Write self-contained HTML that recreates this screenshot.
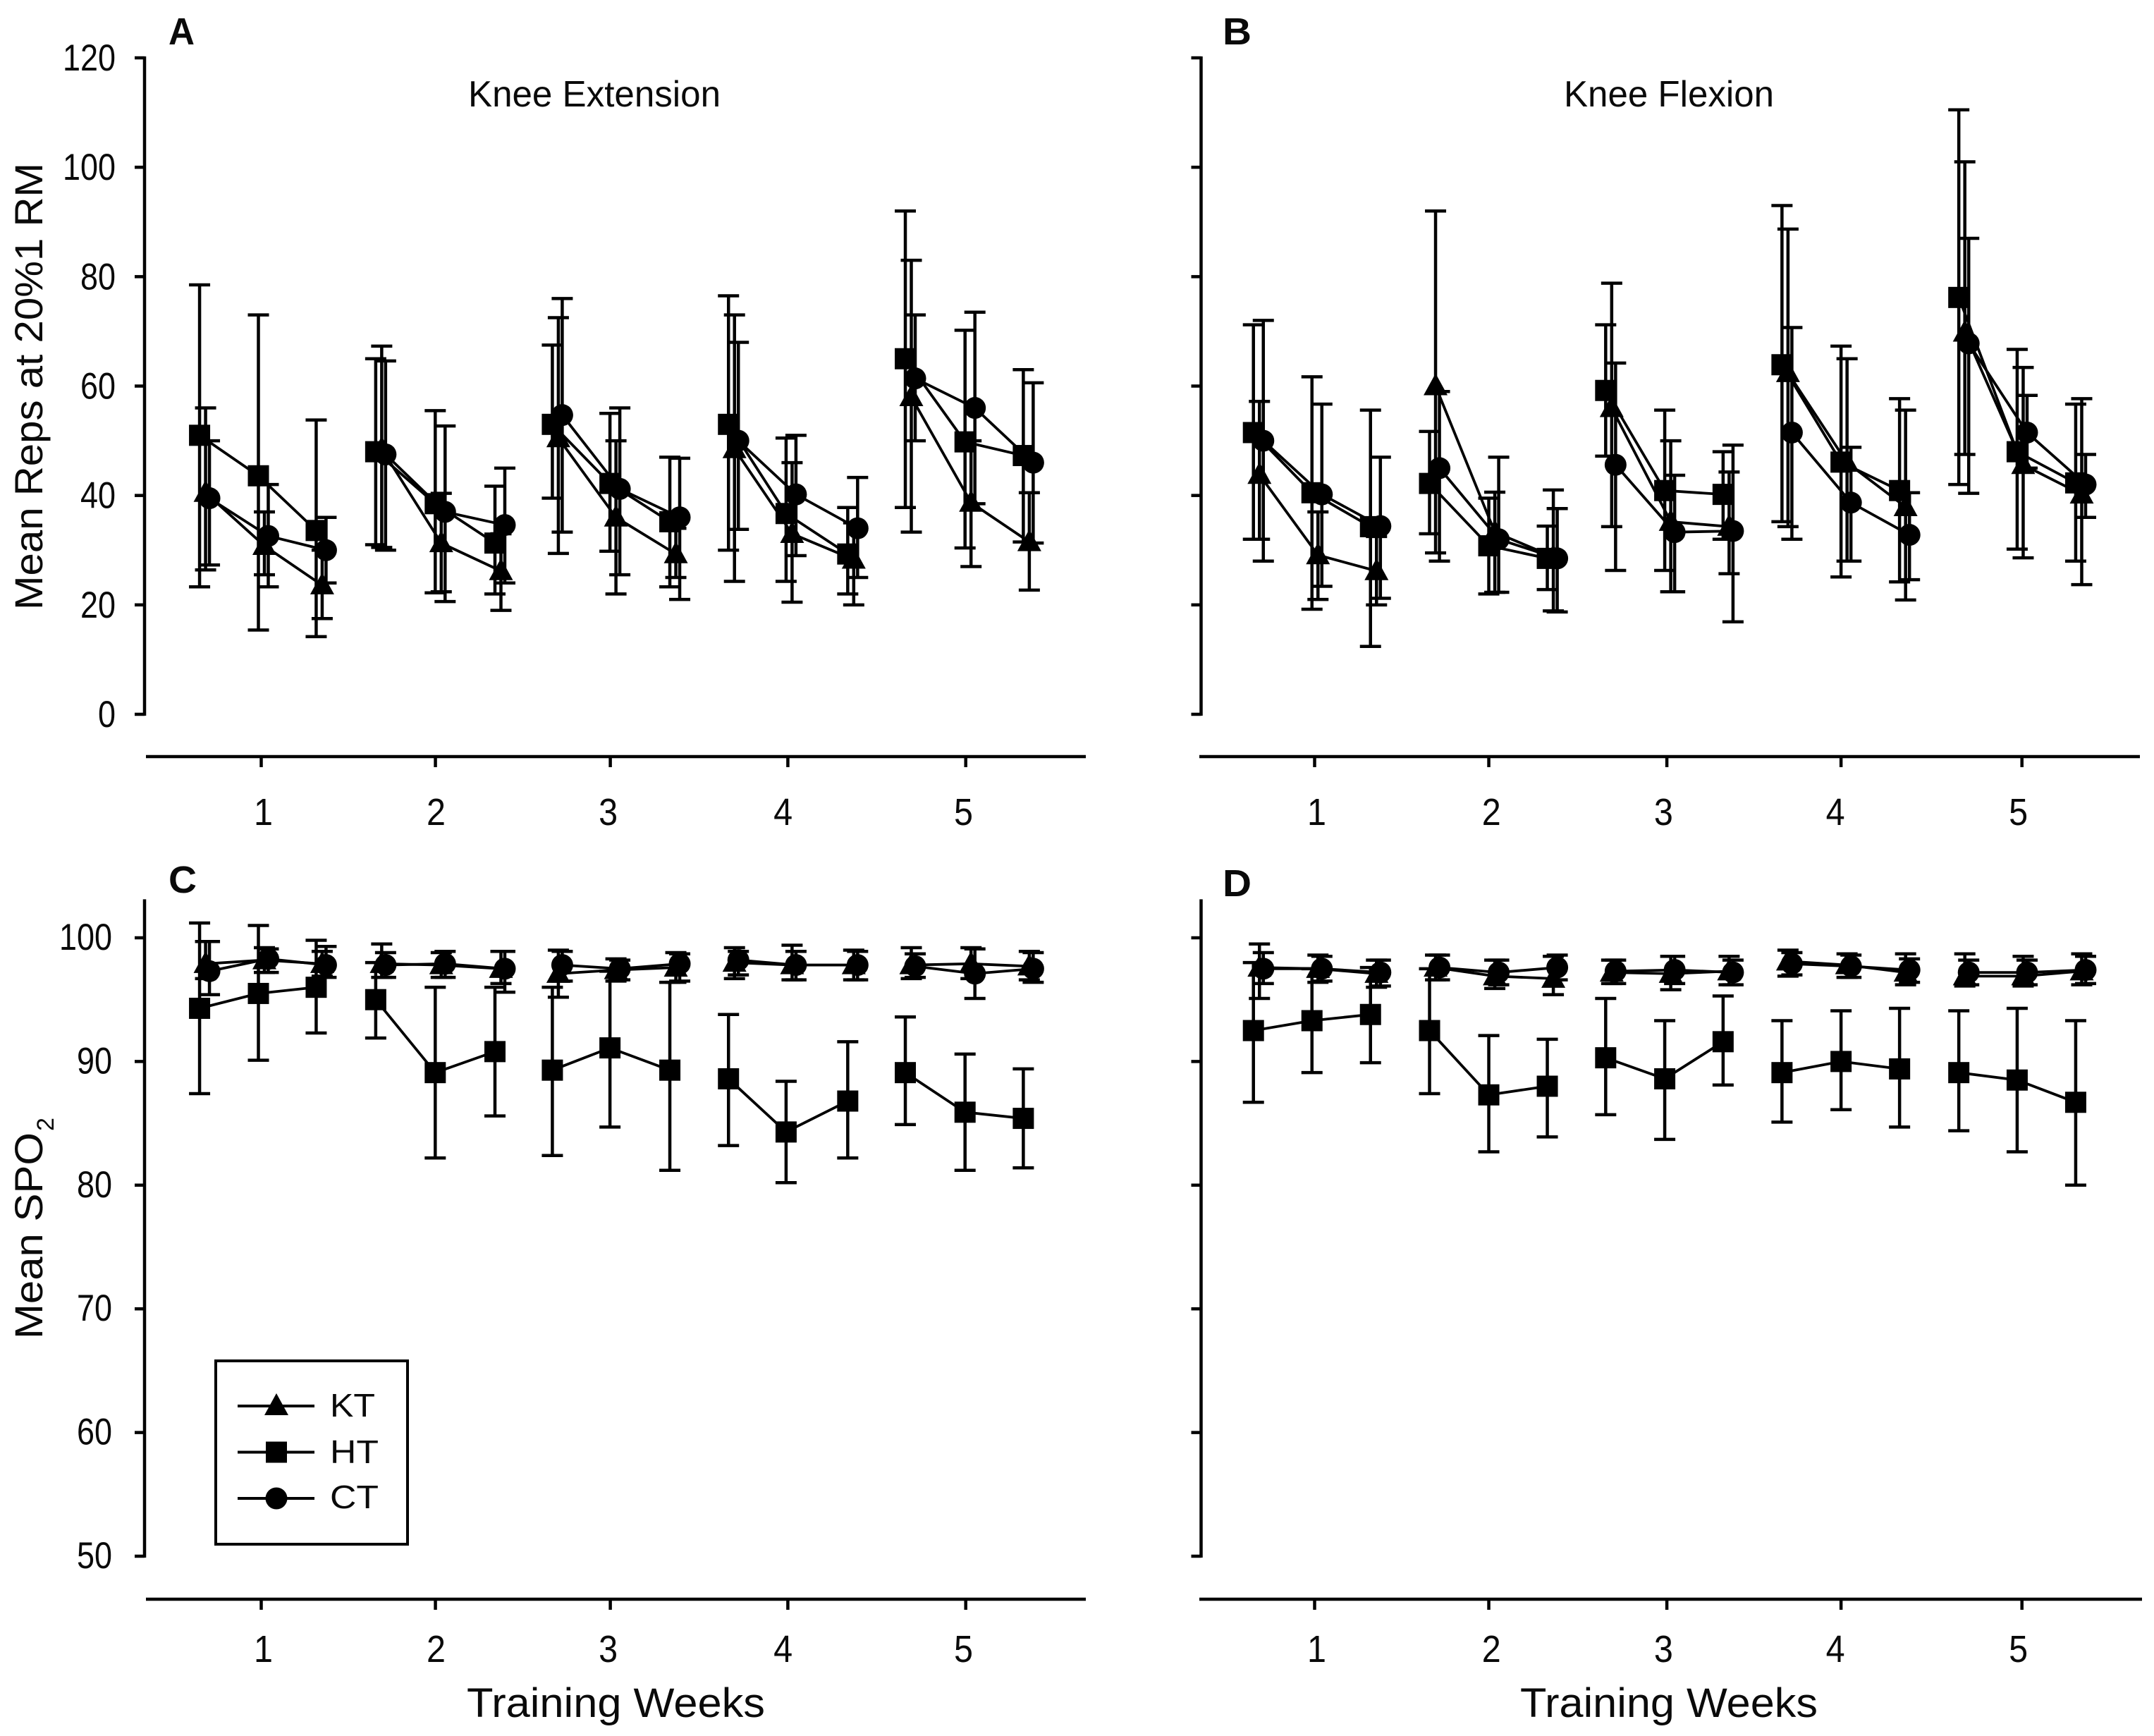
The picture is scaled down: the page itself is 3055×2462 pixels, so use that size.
<!DOCTYPE html>
<html lang="en">
<head>
<meta charset="utf-8">
<title>Mean reps and SpO2 across training weeks</title>
<style>
html,body{margin:0;padding:0;background:#fff;}
#figure{display:block;width:3055px;height:2462px;background:#fff;}
text{font-family:"Liberation Sans",Arial,sans-serif;fill:#0a0a0a;}
</style>
</head>
<body>
<svg id="figure" xmlns="http://www.w3.org/2000/svg" width="3055" height="2462" viewBox="0 0 3055 2462">
  <rect x="0" y="0" width="3055" height="2462" fill="#fff"/>

  <text x="239" y="63" font-size="54" font-weight="bold" textLength="37" lengthAdjust="spacingAndGlyphs">A</text>
  <text x="1734" y="63" font-size="54" font-weight="bold" textLength="41" lengthAdjust="spacingAndGlyphs">B</text>
  <text x="239" y="1266" font-size="54" font-weight="bold" textLength="40" lengthAdjust="spacingAndGlyphs">C</text>
  <text x="1734" y="1271" font-size="54" font-weight="bold" textLength="41" lengthAdjust="spacingAndGlyphs">D</text>

  <text x="664" y="151" font-size="52" textLength="358" lengthAdjust="spacingAndGlyphs">Knee Extension</text>
  <text x="2218" y="151" font-size="52" textLength="298" lengthAdjust="spacingAndGlyphs">Knee Flexion</text>

  <text transform="translate(60,865) rotate(-90)" font-size="56" textLength="634" lengthAdjust="spacingAndGlyphs">Mean Reps at 20%1 RM</text>
  <text transform="translate(60,1899) rotate(-90)" font-size="56" textLength="293" lengthAdjust="spacingAndGlyphs">Mean SPO</text>
  <text transform="translate(76,1604) rotate(-90)" font-size="34">2</text>

  <text x="662" y="2435" font-size="58" textLength="423" lengthAdjust="spacingAndGlyphs">Training Weeks</text>
  <text x="2156" y="2435" font-size="58" textLength="422" lengthAdjust="spacingAndGlyphs">Training Weeks</text>

  <g id="plots"></g>

  <g id="legend">
    <rect x="306" y="1930" width="272" height="260" fill="#fff" stroke="#000" stroke-width="4"/>
    <text x="468" y="2009" font-size="46" textLength="64" lengthAdjust="spacingAndGlyphs">KT</text>
    <text x="468" y="2075" font-size="46" textLength="69" lengthAdjust="spacingAndGlyphs">HT</text>
    <text x="468" y="2139" font-size="46" textLength="69" lengthAdjust="spacingAndGlyphs">CT</text>
  </g>
</svg>

<script>
// ---- shared categories and tick labels ----
const weekLabels = ["1", "2", "3", "4", "5"];
const repsTickValues = [0, 20, 40, 60, 80, 100, 120];
const spoTickValues = [50, 60, 70, 80, 90, 100];
const weekTicksLeft = [1, 1.989, 2.982, 3.99, 5];
const weekTicksRight = [1, 1.985, 2.992, 3.977, 5];
const weekLabelAtLeft = [1.012, 1.993, 2.97, 3.963, 4.987];
const weekLabelAtRight = [1.012, 2, 2.973, 3.945, 4.98];
const sessionWeekLeft = [0.65, 0.984, 1.312, 1.65, 1.988, 2.327, 2.653, 2.98, 3.32, 3.653, 3.98, 4.33, 4.657, 4.996, 5.327];
const sessionWeekRight = [0.654, 0.985, 1.316, 1.65, 1.985, 2.316, 2.646, 2.98, 3.31, 3.643, 3.977, 4.308, 4.643, 4.973, 5.304];

// ---- Panel A: knee extension ----
const aHtMean = [51, 43.6, 33.6, 48, 38.5, 31.3, 53, 42.2, 35.2, 53, 36.7, 29.3, 65, 49.8, 47.3];
const aHtUpper = [78.5, 73, 53.8, 65, 55.5, 41.7, 67.5, 55, 47, 76.5, 50.5, 37.8, 92, 70.2, 63];
const aHtLower = [23.3, 15.4, 14.2, 31, 22.2, 22, 39.5, 29.8, 23.3, 30, 24.3, 22, 37.8, 30.4, 31.5];
const aKtMean = [40.5, 30.8, 23.6, 48.5, 31.3, 26.2, 50.5, 36, 29.3, 48.5, 33, 28.3, 58, 38.7, 31.5];
const aKtUpper = [56, 37, 30, 67.3, 40.4, 33, 72.5, 50, 34, 73, 46, 35, 83, 50, 40.5];
const aKtLower = [26.4, 25.5, 17.5, 30.5, 22.4, 19, 29.4, 22, 25, 24.3, 20.5, 20, 33.3, 27, 22.7];
const aCtMean = [39.5, 32.6, 30, 47.5, 37, 34.6, 54.7, 41.2, 36, 50, 40.2, 34, 61.4, 56, 46];
const aCtUpper = [50, 42, 36, 64.6, 52.7, 45, 76, 56, 46.8, 68, 51, 43.3, 73, 73.5, 60.6];
const aCtLower = [27.3, 23.3, 24, 30, 20.6, 24, 33.3, 25.5, 21, 33.8, 29, 25, 50, 38.5, 31.3];

// ---- Panel B: knee flexion ----
const bHtMean = [51.5, 40.5, 34.3, 42.2, 30.8, 28.5, 59.2, 40.9, 40.2, 63.9, 46.1, 40.9, 76.2, 48, 42.3];
const bHtUpper = [71.2, 61.7, 55.6, 51.7, 39.5, 34.4, 71.2, 55.6, 48, 93, 67.3, 57.7, 110.5, 66.7, 56.7];
const bHtLower = [32, 19.2, 12.4, 33, 22, 22.8, 47.2, 26.3, 32, 35.2, 25.1, 24.2, 42, 30.2, 28];
const bKtMean = [43.8, 29.1, 26.2, 60, 33.3, 28.8, 56, 35.2, 34.3, 62.4, 46, 37.9, 69.8, 45.6, 40.2];
const bKtUpper = [57.2, 37, 32.5, 92, 40.6, 41, 78.8, 50, 44.3, 88.7, 65, 55.6, 101, 63.4, 57.7];
const bKtLower = [32, 21, 20, 29.5, 22.3, 18.9, 34.3, 22.4, 25.7, 34.3, 28, 20.9, 47.5, 28.6, 23.7];
const bCtMean = [50, 40.2, 34.4, 45, 32, 28.5, 45.6, 33.3, 33.5, 51.5, 38.7, 32.8, 67.8, 51.5, 42];
const bCtUpper = [72, 56.7, 47, 59, 47, 37.6, 64.2, 43.7, 49.2, 70.7, 48.8, 40.5, 87, 58.3, 47.5];
const bCtLower = [28, 23.4, 21.2, 28, 22.3, 18.7, 26.3, 22.4, 16.9, 32, 28, 24.6, 40.4, 45, 36];

// ---- Panel C: SpO2 during knee extension ----
const cHtMean = [94.3, 95.5, 96, 95, 89.1, 90.8, 89.3, 91.1, 89.3, 88.6, 84.3, 86.8, 89.1, 85.9, 85.4];
const cHtUpper = [101.2, 101, 99.8, 98, 96, 96, 96, 97.3, 96.4, 93.8, 88.4, 91.6, 93.6, 90.6, 89.4];
const cHtLower = [87.4, 90.1, 92.3, 91.9, 82.2, 85.6, 82.4, 84.7, 81.2, 83.2, 80.2, 82.2, 84.9, 81.2, 81.4];
const cKtMean = [97.9, 98.2, 97.9, 97.9, 97.8, 97.5, 97.1, 97.4, 97.6, 98, 97.8, 97.8, 97.8, 97.9, 97.7];
const cKtUpper = [99.7, 99.2, 98.9, 99.5, 98.8, 98.9, 99, 98.3, 98.8, 99.2, 99.4, 99, 99.2, 99.2, 98.9];
const cKtLower = [96.7, 97.2, 96.9, 96.8, 96.8, 96.3, 95.2, 96.5, 96.4, 96.7, 96.6, 96.6, 96.7, 96.7, 96.6];
const cCtMean = [97.3, 98.3, 97.8, 97.8, 97.9, 97.5, 97.8, 97.5, 97.9, 98.2, 97.8, 97.8, 97.7, 97.1, 97.5];
const cCtUpper = [99.7, 99.1, 99.3, 98.8, 98.9, 98.9, 98.9, 98.2, 98.7, 98.9, 98.9, 98.9, 98.7, 99.1, 98.8];
const cCtLower = [95.4, 97.2, 96.8, 96.8, 96.8, 95.6, 96.5, 96.6, 96.5, 97, 96.6, 96.6, 96.8, 95.1, 96.4];

// ---- Panel D: SpO2 during knee flexion ----
const dHtMean = [92.5, 93.3, 93.8, 92.5, 87.3, 88, 90.3, 88.6, 91.6, 89.1, 90, 89.4, 89.1, 88.5, 86.7];
const dHtUpper = [98, 97.5, 97.6, 97.5, 92.1, 91.8, 95.1, 93.3, 95.3, 93.3, 94.1, 94.3, 94.1, 94.3, 93.3];
const dHtLower = [86.7, 89.1, 89.9, 87.4, 82.7, 83.9, 85.7, 83.7, 88.1, 85.1, 86.1, 84.7, 84.4, 82.7, 80];
const dKtMean = [97.6, 97.5, 97.1, 97.6, 96.9, 96.7, 97.2, 97.1, 97.3, 98.1, 97.8, 97.2, 96.9, 96.9, 97.3];
const dKtUpper = [99.5, 98.6, 98.2, 98.6, 98.2, 98.5, 98.2, 98.5, 98.5, 99, 98.7, 98.7, 98.7, 98.5, 98.7];
const dKtLower = [95.1, 96.4, 96, 96.6, 95.9, 95.4, 96.3, 95.8, 96.2, 96.9, 96.8, 96.2, 96.1, 96.1, 96.2];
const dCtMean = [97.5, 97.5, 97.2, 97.6, 97.2, 97.6, 97.3, 97.4, 97.2, 97.9, 97.7, 97.4, 97.2, 97.2, 97.4];
const dCtUpper = [98.8, 98.5, 98.2, 98.6, 98.2, 98.6, 98.2, 98.5, 98.2, 98.8, 98.6, 98.3, 98.2, 98.2, 98.5];
const dCtLower = [96.3, 96.5, 96.1, 96.6, 96.2, 96.6, 96.3, 96.3, 96.2, 97, 96.8, 96.4, 96.2, 96.2, 96.3];

// ---- axis functions ----
const xLeft = v => 370.5 + (v - 1) * 249.8;
const xRight = v => 1864.5 + (v - 1) * 250.8;
const yReps = v => 1013 - v * 7.758;
const ySpo = v => 1330 + (100 - v) * 17.54;
const seriesOffsetWeeks = { ht: 0, kt: 0.034, ct: 0.056 };
const svgNS = "http://www.w3.org/2000/svg";

function mk(parent, tag, attrs, text) {
  const el = document.createElementNS(svgNS, tag);
  for (const k in attrs) el.setAttribute(k, attrs[k]);
  if (text !== undefined) el.textContent = text;
  parent.appendChild(el);
  return el;
}

function drawMarker(parent, kind, cx, cy) {
  let el;
  if (kind === "ht") {
    el = mk(parent, "rect", { x: cx - 15, y: cy - 15, width: 30, height: 30, fill: "#000" });
    
  } else if (kind === "kt") {
    el = mk(parent, "polygon", { points: (cx - 17) + "," + (cy + 13) + " " + cx + "," + (cy - 18) + " " + (cx + 17) + "," + (cy + 13), fill: "#000" });
    
  } else {
    el = mk(parent, "circle", { cx: cx, cy: cy, r: 15.5, fill: "#000" });
    
  }
  
}

function drawSeries(parent, kind, sessions, xScale, yScale, mean, upper, lower) {
  const grp = mk(parent, "g", {});
  
  
  const px = sessions.map(s => xScale(s + seriesOffsetWeeks[kind]));
  // connecting lines inside each week
  for (let i = 0; i < mean.length; i += 3) {
    const pts = [0, 1, 2].map(j => px[i + j] + "," + yScale(mean[i + j])).join(" ");
    const line = mk(grp, "polyline", { points: pts, fill: "none", stroke: "#000", "stroke-width": 3.8 });
    
    
  }
  // error bars
  for (let i = 0; i < mean.length; i++) {
    const yu = yScale(upper[i]);
    const yl = yScale(lower[i]);
    const bar = mk(grp, "path", {
      d: "M" + px[i] + " " + yu + "V" + yl +
         "M" + (px[i] - 15) + " " + yu + "H" + (px[i] + 15) +
         "M" + (px[i] - 15) + " " + yl + "H" + (px[i] + 15),
      fill: "none", stroke: "#000", "stroke-width": 4.5
    });
    
    
  }
  for (let i = 0; i < mean.length; i++) {
    drawMarker(grp, kind, px[i], yScale(mean[i]));
  }
}

function drawAxes(parent, opt) {
  const grp = mk(parent, "g", {});
  
  
  const axisLine = mk(grp, "line", { x1: opt.axisX, x2: opt.axisX, y1: opt.yScale(opt.yMax) - 2, y2: opt.yScale(opt.yMin) + 2, stroke: "#000", "stroke-width": 4.5 });
  
  
  opt.yTicks.forEach(v => {
    const y = opt.yScale(v);
    const tick = mk(grp, "line", { x1: opt.axisX - 14, x2: opt.axisX, y1: y, y2: y, stroke: "#000", "stroke-width": 4.5 });
    
    
    if (opt.yLabelRight) {
      const label = String(v);
      const t = mk(grp, "text", { x: opt.yLabelRight, y: y + opt.yLabelDy, "font-size": 53, "text-anchor": "end", textLength: label.length * 25, lengthAdjust: "spacingAndGlyphs" }, label);
      
      
    }
  });
  const xLine = mk(grp, "line", { x1: opt.xFrom, x2: opt.xTo, y1: opt.xAxisY, y2: opt.xAxisY, stroke: "#000", "stroke-width": 4.5 });
  
  
  opt.xTicks.forEach((v, i) => {
    const x = opt.xScale(v);
    const tick = mk(grp, "line", { x1: x, x2: x, y1: opt.xAxisY, y2: opt.xAxisY + 15, stroke: "#000", "stroke-width": 4.5 });
    
    
    const t = mk(grp, "text", { x: opt.xScale(opt.xLabelAt[i]), y: opt.xLabelY, "font-size": 54, "text-anchor": "middle", textLength: 27, lengthAdjust: "spacingAndGlyphs" }, weekLabels[i]);
    
    
  });
}

const plots = document.getElementById("plots");

// Panel A
const panelA = mk(plots, "g", {});


drawAxes(panelA, { name: "panel-a", axisX: 205, yScale: yReps, yMin: 0, yMax: 120, yTicks: repsTickValues, yLabelRight: 164, yLabelDy: 18, xFrom: 207, xTo: 1540, xAxisY: 1073, xTicks: weekTicksLeft, xLabelAt: weekLabelAtLeft, xScale: xLeft, xLabelY: 1170 });
drawSeries(panelA, "ht", sessionWeekLeft, xLeft, yReps, aHtMean, aHtUpper, aHtLower);
drawSeries(panelA, "kt", sessionWeekLeft, xLeft, yReps, aKtMean, aKtUpper, aKtLower);
drawSeries(panelA, "ct", sessionWeekLeft, xLeft, yReps, aCtMean, aCtUpper, aCtLower);

// Panel B
const panelB = mk(plots, "g", {});


drawAxes(panelB, { name: "panel-b", axisX: 1703.5, yScale: yReps, yMin: 0, yMax: 120, yTicks: repsTickValues, yLabelRight: 0, yLabelDy: 0, xFrom: 1701, xTo: 3035, xAxisY: 1073, xTicks: weekTicksRight, xLabelAt: weekLabelAtRight, xScale: xRight, xLabelY: 1170 });
drawSeries(panelB, "ht", sessionWeekRight, xRight, yReps, bHtMean, bHtUpper, bHtLower);
drawSeries(panelB, "kt", sessionWeekRight, xRight, yReps, bKtMean, bKtUpper, bKtLower);
drawSeries(panelB, "ct", sessionWeekRight, xRight, yReps, bCtMean, bCtUpper, bCtLower);

// Panel C
const panelC = mk(plots, "g", {});


drawAxes(panelC, { name: "panel-c", axisX: 205, yScale: ySpo, yMin: 50, yMax: 103, yTicks: spoTickValues, yLabelRight: 159, yLabelDy: 17, xFrom: 207, xTo: 1540, xAxisY: 2268, xTicks: weekTicksLeft, xLabelAt: weekLabelAtLeft, xScale: xLeft, xLabelY: 2357 });
drawSeries(panelC, "ht", sessionWeekLeft, xLeft, ySpo, cHtMean, cHtUpper, cHtLower);
drawSeries(panelC, "kt", sessionWeekLeft, xLeft, ySpo, cKtMean, cKtUpper, cKtLower);
drawSeries(panelC, "ct", sessionWeekLeft, xLeft, ySpo, cCtMean, cCtUpper, cCtLower);

// Panel D
const panelD = mk(plots, "g", {});


drawAxes(panelD, { name: "panel-d", axisX: 1703.5, yScale: ySpo, yMin: 50, yMax: 103, yTicks: spoTickValues, yLabelRight: 0, yLabelDy: 0, xFrom: 1701, xTo: 3038, xAxisY: 2268, xTicks: weekTicksRight, xLabelAt: weekLabelAtRight, xScale: xRight, xLabelY: 2357 });
drawSeries(panelD, "ht", sessionWeekRight, xRight, ySpo, dHtMean, dHtUpper, dHtLower);
drawSeries(panelD, "kt", sessionWeekRight, xRight, ySpo, dKtMean, dKtUpper, dKtLower);
drawSeries(panelD, "ct", sessionWeekRight, xRight, ySpo, dCtMean, dCtUpper, dCtLower);

// Legend keys
const legend = document.getElementById("legend");
const legendKinds = ["kt", "ht", "ct"];
legendKinds.forEach((kind, i) => {
  const y = 1994 + i * 65.5;
  const key = mk(legend, "line", { x1: 337, x2: 446, y1: y, y2: y, stroke: "#000", "stroke-width": 4 });
  
  
  drawMarker(legend, kind, 392, y);
});
</script>
</body>
</html>
